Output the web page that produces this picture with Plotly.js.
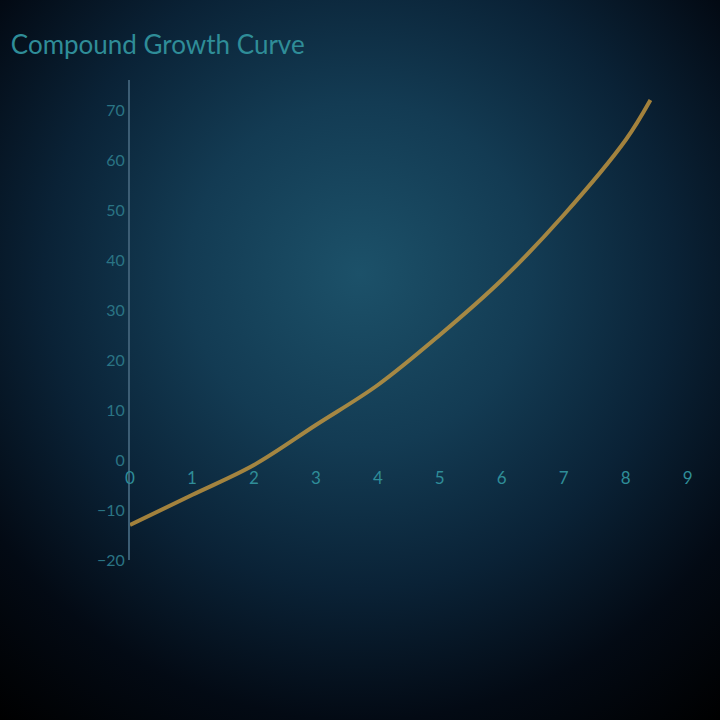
<!DOCTYPE html>
<html>
<head>
<meta charset="utf-8">
<script src="https://cdn.plot.ly/plotly-3.0.1.min.js"></script>
<style>
  html, body { margin: 0; padding: 0; width: 720px; height: 720px; overflow: hidden; }
  body {
    background: radial-gradient(circle at 50% 38%, #1c5169 0%, #133b53 30%, #0a2236 55%, #030a14 78%, #000000 100%);
  }
  #chart { width: 720px; height: 720px; }
</style>
</head>
<body>
<div id="chart"></div>
<script>
// values
var periods = [0, 1, 2, 3, 4, 5, 6, 7, 8, 8.4];
var growth = [-13, -7, -1, 7, 15, 25, 36, 49, 64, 72];
var xTicks = [0, 1, 2, 3, 4, 5, 6, 7, 8, 9];
var yTicks = [-20, -10, 0, 10, 20, 30, 40, 50, 60, 70];

var teal = '#2f8d98';

var data = [{
    type: 'scatter',
    mode: 'lines',
    x: periods,
    y: growth,
    line: {
        color: '#c99a3e',
        width: 4,
        shape: 'spline'
    },
    opacity: 0.8,
    hoverinfo: 'x+y'
}];

var layout = {
    width: 720,
    height: 720,
    paper_bgcolor: 'rgba(0,0,0,0)',
    plot_bgcolor: 'rgba(0,0,0,0)',
    font: {
        family: 'Lato',
        size: 14,
        color: teal
    },
    title: {
        text: 'Compound Growth Curve',
        x: 0.015,
        xanchor: 'left',
        y: 0.95,
        font: { size: 26, color: teal }
    },
    margin: { l: 130, r: 20, t: 80, b: 160 },
    xaxis: {
        range: [0, 9.2],
        tickvals: xTicks,
        anchor: 'free',
        position: 0.2083, // y = 0
        showgrid: false,
        zeroline: false,
        showline: false,
        ticks: '',
        ticklabelstandoff: 6,
        tickfont: { size: 17, color: teal }
    },
    yaxis: {
        range: [-20, 76],
        tickvals: yTicks,
        showgrid: false,
        zeroline: false,
        showline: true,
        linecolor: '#3c5d74',
        linewidth: 2,
        ticks: '',
        ticklabelstandoff: 0,
        tickfont: { size: 16, color: '#2a7484' }
    },
    showlegend: false
};

Plotly.newPlot('chart', data, layout, { displayModeBar: false, staticPlot: true });
</script>
</body>
</html>
